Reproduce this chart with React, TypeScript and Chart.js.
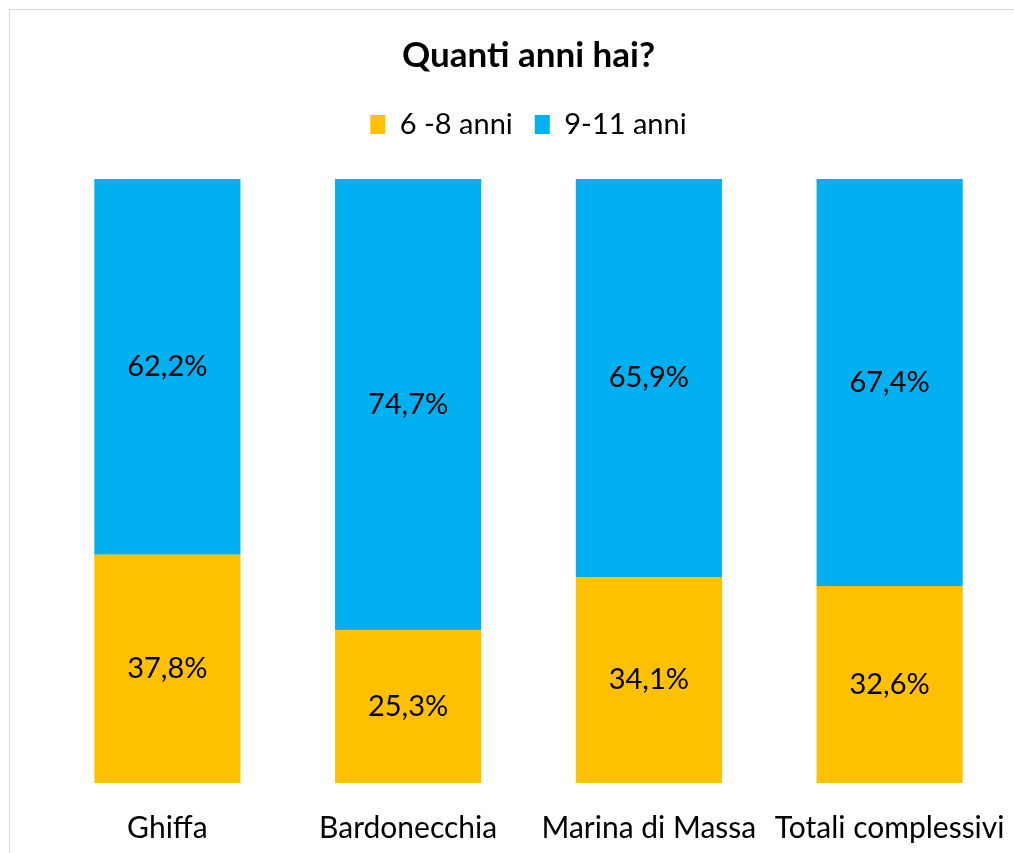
import React, { useEffect, useRef } from "react";
import { Chart, registerables } from "chart.js";

Chart.register(...registerables);

const categories = ["Ghiffa", "Bardonecchia", "Marina di Massa", "Totali complessivi"];
const series1Name = "6 -8 anni";
const series2Name = "9-11 anni";
const series1Values = [37.8, 25.3, 34.1, 32.6];
const series2Values = [62.2, 74.7, 65.9, 67.4];
const titleText = "Quanti anni hai?";

const FONT = "Lato, 'Open Sans', sans-serif";

const labelPlugin = {
  id: "barLabels",
  afterDatasetsDraw(chart: any) {
    const ctx = chart.ctx;
    ctx.save();
    ctx.font = `29px ${FONT}`;
    ctx.fillStyle = "#000";
    ctx.textAlign = "center";
    ctx.textBaseline = "middle";
    chart.data.datasets.forEach((ds: any, di: number) => {
      const meta = chart.getDatasetMeta(di);
      meta.data.forEach((bar: any, i: number) => {
        const v = ds.data[i];
        const y = (bar.y + bar.base) / 2;
        ctx.fillText(v.toFixed(1).replace(".", ",") + "%", bar.x, y);
      });
    });
    ctx.restore();
  },
};

const legendSpacer = {
  id: "legendSpacer",
  beforeInit(chart: any) {
    const orig = chart.legend.fit;
    chart.legend.fit = function () {
      orig.call(this);
      this.height += 30;
    };
  },
};

export default function App() {
  const ref = useRef<HTMLCanvasElement>(null);
  useEffect(() => {
    if (!ref.current) return;
    const chart = new Chart(ref.current, {
      type: "bar",
      data: {
        labels: categories,
        datasets: [
          { label: series1Name, data: series1Values, backgroundColor: "#FFC000" },
          { label: series2Name, data: series2Values, backgroundColor: "#00B0F0" },
        ],
      },
      options: {
        animation: false,
        responsive: false,
        maintainAspectRatio: false,
        layout: { padding: { left: 47, right: 4, top: 31, bottom: 0 } },
        datasets: { bar: { barPercentage: 0.607, categoryPercentage: 1 } },
        scales: {
          x: {
            stacked: true,
            grid: { display: false, drawTicks: false },
            border: { display: false },
            ticks: { color: "#000", font: { family: FONT, size: 30 }, padding: 27, maxRotation: 0, autoSkip: false },
            afterFit(scale: any) {
              scale.paddingLeft = 0;
              scale.paddingRight = 0;
            },
          },
          y: {
            stacked: true,
            display: false,
            min: 0,
            max: 100,
          },
        },
        plugins: {
          tooltip: { enabled: false },
          title: {
            display: true,
            text: titleText,
            color: "#000",
            font: { family: FONT, size: 35, weight: "bold" },
            padding: { top: 4, bottom: 11 },
          },
          legend: {
            display: true,
            labels: {
              color: "#000",
              font: { family: FONT, size: 29 },
              boxWidth: 15,
              boxHeight: 19,
              padding: 22,
            },
          },
        },
      },
      plugins: [labelPlugin, legendSpacer],
    });
    return () => chart.destroy();
  }, []);
  return (
    <div style={{ position: "fixed", left: 0, top: 0, width: 1014, height: 853, background: "#fff", overflow: "hidden" }}>
      <div style={{ position: "absolute", left: 9, top: 9, width: 1100, height: 1000, border: "1px solid #d9d9d9" }} />
      <canvas ref={ref} width={1014} height={873} style={{ position: "absolute", left: 0, top: 0 }} />
    </div>
  );
}
